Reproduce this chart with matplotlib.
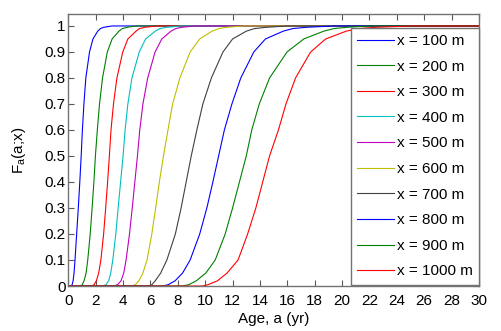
import matplotlib
matplotlib.use("Agg")
import matplotlib.pyplot as plt

plt.rcParams['font.family'] = ['Liberation Sans', 'DejaVu Sans']

# CDF levels
F_levels = [0.0, 0.005, 0.02, 0.05, 0.1, 0.2, 0.3, 0.4, 0.5, 0.6, 0.7, 0.8,
            0.9, 0.95, 0.98, 0.99, 0.995, 1.0]

# age (yr) at which each curve reaches the levels above
age_100 = [0.20, 0.28, 0.35, 0.42, 0.49, 0.61, 0.73, 0.84, 0.94, 1.03, 1.14, 1.28,
           1.55, 1.80, 2.15, 2.35, 2.6, 3.2]
age_200 = [0.90, 1.02, 1.15, 1.30, 1.42, 1.60, 1.74, 1.87, 1.98, 2.12, 2.28, 2.50,
           2.85, 3.20, 3.70, 3.95, 4.3, 5.0]
age_300 = [1.70, 1.88, 2.05, 2.22, 2.38, 2.58, 2.73, 2.87, 3.00, 3.12, 3.30, 3.55,
           3.98, 4.35, 4.95, 5.2, 5.6, 6.5]
age_400 = [2.50, 2.75, 2.95, 3.10, 3.25, 3.47, 3.64, 3.82, 4.00, 4.15, 4.35, 4.65,
           5.18, 5.65, 6.35, 6.7, 7.2, 8.3]
age_500 = [3.30, 3.60, 3.85, 4.05, 4.22, 4.47, 4.67, 4.86, 5.05, 5.22, 5.45, 5.80,
           6.34, 6.83, 7.50, 7.85, 8.3, 9.3]
age_600 = [4.60, 4.90, 5.15, 5.45, 5.75, 6.10, 6.38, 6.65, 6.95, 7.28, 7.62, 8.15,
           8.90, 9.60, 10.5, 11.0, 11.6, 12.8]
age_700 = [5.90, 6.10, 6.35, 6.75, 7.20, 7.82, 8.24, 8.61, 8.98, 9.39, 9.83, 10.45,
           11.3, 12.0, 13.0, 13.6, 14.5, 16.0]
age_800 = [6.90, 7.30, 7.80, 8.35, 8.90, 9.60, 10.12, 10.56, 10.98, 11.4, 11.95, 12.6,
           13.55, 14.4, 15.7, 16.4, 17.4, 19.5]
age_900 = [8.30, 8.80, 9.35, 10.05, 10.73, 11.46, 12.0, 12.5, 13.0, 13.4, 13.95, 14.7,
           15.98, 17.2, 18.66, 19.4, 20.4, 22.0]
age_1000 = [9.80, 10.2, 10.9, 11.6, 12.4, 13.1, 13.7, 14.2, 14.7, 15.35, 15.9, 16.6,
            17.7, 18.8, 20.3, 21.2, 22.5, 25.0]

ages = [age_100, age_200, age_300, age_400, age_500,
        age_600, age_700, age_800, age_900, age_1000]
distances = [100, 200, 300, 400, 500, 600, 700, 800, 900, 1000]

# old MATLAB colour order, cycled
colors = ['#0000ff', '#008000', '#ff0000', '#00bfbf', '#bf00bf',
          '#bfbf00', '#404040', '#0000ff', '#008000', '#ff0000']

a_min, a_max = 0, 30

fig = plt.figure(figsize=(5.01, 3.31), dpi=100)
ax = fig.add_axes([68.3 / 501, 1 - 286 / 331, (479 - 68.3) / 501, (286 - 14) / 331])

for a, d, c in zip(ages, distances, colors):
    xs = [a_min] + a + [a_max]
    ys = [F_levels[0]] + F_levels + [F_levels[-1]]
    ax.plot(xs, ys, color=c, lw=0.8, label='x = %d m' % d)

ax.set_xlim(0, 30)
ax.set_ylim(0, 1.046)
ax.set_xticks(range(0, 31, 2))
ax.set_yticks([i / 10 for i in range(11)])
ax.set_yticklabels(['0', '0.1', '0.2', '0.3', '0.4', '0.5', '0.6', '0.7', '0.8', '0.9', '1'])
ax.tick_params(direction='in', length=4, width=0.8, color='0.35',
               top=True, right=True, labelsize=11)
ax.tick_params(axis='x', pad=6)
ax.tick_params(axis='y', pad=2)
for s in ax.spines.values():
    s.set_color('0.45')
    s.set_linewidth(1.0)

ax.set_xlabel('Age, a (yr)', fontsize=11, labelpad=3)
ax.set_ylabel(r'$\mathregular{F_a}$(a;x)', fontsize=11, labelpad=12)

leg = ax.legend(loc='upper right', bbox_to_anchor=(1.0, 0.949), borderaxespad=0,
                fontsize=11, handlelength=2.4, handletextpad=0.2,
                labelspacing=0.76, borderpad=0.4, fancybox=False, framealpha=1)
leg.get_frame().set_edgecolor('0.45')
leg.get_frame().set_linewidth(1.0)

fig.savefig('out.png', dpi=100)
